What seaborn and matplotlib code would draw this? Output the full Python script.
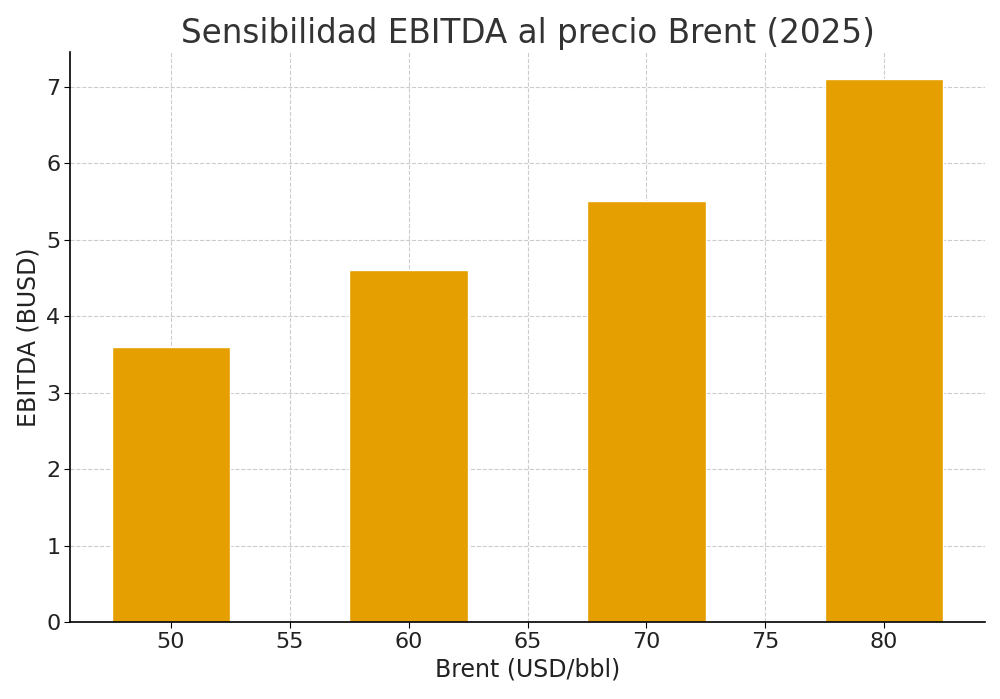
import pandas as pd
import seaborn as sns
import matplotlib.pyplot as plt

# Données
brent = [50, 60, 70, 80]
ebitda = [3.6, 4.6, 5.5, 7.1]

df = pd.DataFrame({"brent": brent, "ebitda": ebitda})

sns.set_style("ticks")
plt.rcParams["font.family"] = ["DejaVu Sans"]

fig, ax = plt.subplots(figsize=(10, 6.99), dpi=100)
fig.subplots_adjust(left=0.07, right=0.985, top=0.926, bottom=0.11)

sns.barplot(data=df, x="brent", y="ebitda", native_scale=True, width=0.5,
            color="#E69F00", saturation=1, ax=ax, zorder=2)

ax.grid(True, linestyle="--", color="#cccccc", linewidth=0.8, zorder=0)
ax.set_axisbelow(True)
sns.despine(ax=ax)
for s in ["left", "bottom"]:
    ax.spines[s].set_color("black")
    ax.spines[s].set_linewidth(1.2)

ax.set_title("Sensibilidad EBITDA al precio Brent (2025)", fontsize=23.5, color="#333333")
ax.set_xlabel("Brent (USD/bbl)", fontsize=17, color="#222222")
ax.set_ylabel("EBITDA (BUSD)", fontsize=17, color="#222222")
ax.tick_params(labelsize=16, length=4, pad=3, color="black", labelcolor="#222222")

plt.savefig("out.png")
